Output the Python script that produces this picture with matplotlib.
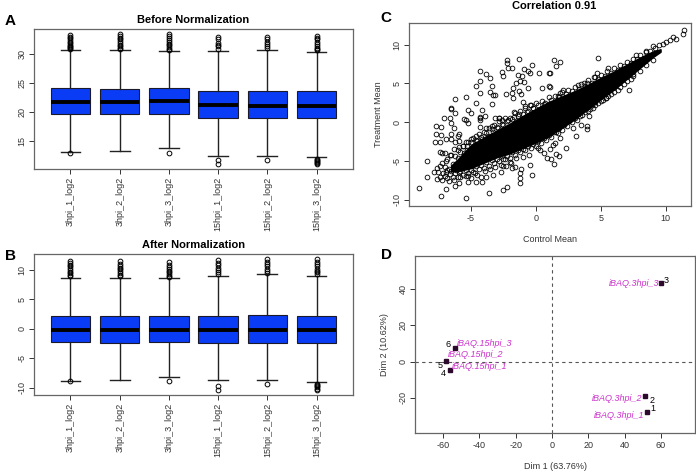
import matplotlib
matplotlib.use("Agg")
import matplotlib.pyplot as plt

plt.rcParams['font.family'] = ['Liberation Sans', 'DejaVu Sans']
plt.rcParams['axes.unicode_minus'] = False

W, H = 696, 472

samples = ["3hpi_1_log2", "3hpi_2_log2", "3hpi_3_log2",
           "15hpi_1_log2", "15hpi_2_log2", "15hpi_3_log2"]

# A: before normalization (box statistics)
before_q1 = [19.7, 19.6, 19.7, 19.0, 18.9, 19.0]
before_med = [21.75, 21.75, 21.9, 21.15, 21.0, 21.05]
before_q3 = [24.1, 24.0, 24.1, 23.6, 23.6, 23.6]
before_lo = [13.15, 13.3, 13.75, 12.5, 12.5, 12.2]
before_hi = [30.6, 30.7, 30.45, 30.45, 30.7, 30.35]
before_out = [
    [13.0, 30.8, 31.0, 31.2, 31.4, 31.6, 31.9, 32.1, 32.4, 32.7, 33.0, 33.3],
    [30.9, 31.1, 31.4, 31.6, 31.9, 32.2, 32.5, 32.8, 33.1, 33.4],
    [13.0, 30.7, 30.9, 31.2, 31.5, 31.8, 32.1, 32.4, 32.8, 33.1, 33.4],
    [11.8, 11.0, 30.9, 31.3, 31.6, 31.9, 32.5, 33.0],
    [11.8, 31.0, 31.3, 31.7, 32.1, 32.5, 32.9],
    [12.0, 11.8, 11.6, 11.4, 11.2, 11.0, 30.6, 30.8, 31.0, 31.3, 31.7,
     32.1, 32.5, 32.8, 33.1],
]

# B: after normalization
after_q1 = [-2.25, -2.35, -2.25, -2.4, -2.4, -2.4]
after_med = [-0.15, -0.15, -0.1, -0.2, -0.2, -0.2]
after_q3 = [2.2, 2.2, 2.2, 2.25, 2.3, 2.25]
after_lo = [-8.75, -8.6, -8.2, -8.7, -8.7, -9.05]
after_hi = [8.65, 8.7, 8.55, 9.05, 9.25, 9.05]
after_out = [
    [-8.9, 8.9, 9.1, 9.4, 9.7, 10.0, 10.3, 10.6, 10.9, 11.2, 11.5],
    [8.9, 9.2, 9.5, 9.8, 10.1, 10.4, 10.7, 11.0, 11.5],
    [-8.9, 8.8, 9.0, 9.3, 9.6, 9.9, 10.2, 10.5, 10.9, 11.4],
    [-9.6, -10.3, 9.3, 9.6, 10.0, 10.4, 10.8, 11.2, 11.6],
    [-9.4, 9.5, 9.8, 10.2, 10.6, 11.0, 11.4, 11.8],
    [-9.3, -9.5, -9.7, -9.9, -10.1, -10.3, 9.3, 9.6, 9.9, 10.2, 10.6,
     11.0, 11.4, 11.8],
]

# C: dense core of the control/treatment cloud (solid black region)
core_x = [-6.5, -6.0, -5.0, -4.0, -3.0, -2.0, -1.0, 0.0, 1.0, 2.0, 3.0,
          4.0, 5.0, 6.0, 7.0, 8.0, 9.0, 9.6]
core_lo = [-6.3, -6.3, -5.9, -5.2, -4.5, -4.0, -3.3, -2.6, -1.8, -0.7, 0.4,
           1.7, 3.0, 4.2, 5.6, 7.0, 8.4, 9.1]
core_hi = [-5.6, -4.8, -3.0, -2.0, -1.1, -0.2, 0.8, 1.7, 2.6, 3.3, 4.0,
           4.8, 5.7, 6.5, 7.4, 8.3, 9.1, 9.4]

# C: individual proteins visible outside the core
ctrl_mean = [
    -2.18, -2.2, -1.26, -4.26, -3.85, -3.52, -2.62, -2.5, -2.1, -1.85, -1.38,
    -1.08, -0.92, -0.56, -0.44, -0.31, 0.25, 1.02, -4.26, -4.57, -3.4, -4.26,
    -3.52, -3.3, -3.1, -2.28, -1.85, -1.72, -1.54, -1.23, -0.9, -1.26, -1.1,
    -1.77, -0.59, 0.51, 1.02, -6.2, -5.4, -4.57, -3.4, -4.1, -5.2, -5.0, -6.5,
    -6.5, -6.2, -7.03, -6.6, -5.5, -4.3, -3.1, -2.8, -1.7, -0.98, -0.82, -0.44,
    11.43, 11.3, 10.54, 10.8, 10.3, 10.05, 9.8, 9.5, 9.2, 9.0, 8.8, 8.5, 7.7,
    4.82, 1.43, 1.85, 1.6, 1.08, 1.08, 5.58, 4.68, 4.55, 7.38, 7.45, 7.17, 5.4,
    4.1, 3.28, 3.7, 3.95, 2.1, 1.85, 1.75, 4.32, 4.6, 4.0, 3.5, 3.93, 3.97,
    2.9, 3.1, 2.3, 1.74, 1.85, 1.48, 1.1, 1.6, 1.8, 1.18, 1.43,
    -8.98, -7.3, -5.4, -3.6, -2.5, -2.2, -1.2, -1.2, -0.3, -8.36, -8.34, -7.8,
    -7.6, -7.4, -6.9, -6.2, -5.9, -5.2, -4.6, -4.1, -3.8, -3.3, -2.7, -2.5,
    -1.85, -1.1, -1.2, -0.44, -5.4, -5.2, -7.67, -7.3, -7.67, -7.3, -7.75,
    -7.4, -6.9, -6.5, -6.2, -5.9, -5.6, -6.5, -6.3, -6.5, -5.9, -6.0, -5.4,
    -5.0, -4.6, -4.5, -7.2, -7.0, -7.4, -7.2, -6.8, -7.0, -7.5, -6.8, -5.9,
    -5.6, -4.3, -4.3, -3.9, -2.8, -2.6, -4.3, -3.8, -3.4, -2.5, -2.0, -1.6,
    0.2, 0.6, 0.9,
    -6.5, -6.0, -5.6, -5.2, -4.8, -4.4, -4.0, -3.6, -3.2, -2.8, -2.4, -2.0,
    -1.6, -1.2, -0.8, -0.4, 0.0, 0.5, 1.0, 1.5, 2.0, 2.5, 3.0, 3.5, 4.0, 4.5,
    5.0, 5.5, 6.0, 6.5, 7.0, 7.5, 8.0, 8.5,
    -7.2, -6.8, -6.4, -6.0, -5.6, -5.2, -4.8, -4.4, -4.0, -3.6, -3.2, -2.8,
    -2.4, -2.0, -1.6, -1.2, -0.8, -0.4, 0.0, 0.4, 0.8, 1.2, 1.6, 2.0, 2.4,
    2.8, 3.2, 3.6, 4.0, 4.4, 4.8, 5.2, 5.6, 6.0, 6.5, 7.0, 7.5, 8.0, 8.5, 9.0,
    -7.4, -7.1, -6.9, -6.7, -6.6, -6.4, -6.3, -6.1, -6.0, -5.9, -5.7, -5.5,
    -5.4, -5.3, -5.1, -5.0, -4.9, -4.7, -4.6, -4.4, -4.2, -4.1, -3.9, -3.7,
    -3.5, -3.3, -3.1, -2.9, -2.7, -2.5, -2.3, -2.1, -1.9, -1.7, -1.5, -1.3,
    -1.0, -0.7, -0.5, -0.2, 0.3, 0.6, 1.3, 1.7,
    -6.2, -5.8, -5.3, -5.0, -4.6, -4.2, -3.8, -3.4, -3.0, -2.6, -2.2, -1.8,
    -1.4, -1.0, -0.6, -0.2, 0.2, 0.7, 1.2, 1.8, 2.3, 2.8, 3.3, 3.8, 4.3, 4.8,
    5.3, 5.8, 6.3, 6.8, 7.3, 7.8,
    -6.6, -6.2, -5.8, -5.4, -5.0, -4.6, -4.2, -3.8, -3.4, -3.0, -2.6, -2.2,
    -1.8, -1.4, -1.0, -0.6, -0.2, 0.2, 0.6, 1.0, 1.4, 1.8, 2.2, 2.6, 3.0, 3.4,
    3.8, 4.2, 4.6, 5.0, 5.4, 5.8, 6.3, 6.8, 7.3,
    -7.0, -6.7, -6.5, -6.3, -6.0, -5.8, -5.5, -5.2, -4.9, -4.5, -7.6, -6.9,
]
treat_mean = [
    8.04, 7.7, 8.17, 6.66, 6.23, 5.68, 6.53, 6.0, 6.97, 7.05, 6.1,
    6.0, 6.84, 6.66, 6.4, 7.39, 6.4, 6.32, 5.37, 4.68, 4.7, 3.82,
    3.9, 3.5, 3.5, 3.7, 3.8, 4.4, 5.03, 5.3, 5.2, 4.05, 3.6,
    3.14, 4.38, 4.47, 4.7, 3.05, 3.2, 2.53, 2.3, 1.59, 1.6, 1.2, 1.8,
    1.65, 1.2, 0.6, 0.5, 0.45, 0.6, 0.6, 0.6, 1.3, 2.66, 2.1, 2.2,
    11.9, 11.4, 10.96, 10.75, 10.6, 10.3, 10.05, 9.9, 9.6, 9.8, 9.2, 9.2, 8.7,
    8.26, 8.04, 7.8, 7.3, 6.32, 4.6, 7.05, 6.4, 5.8, 6.53, 6.2, 4.17, 3.1,
    0.85, 4.8, 5.0, 5.1, 4.1, 3.74, 3.4, 2.2, 2.6, 2.0, -0.35, -0.5, -0.9,
    -0.78, -1.73, -3.36, -1.42, -2.07, -2.7, -3.45, -4.1, -4.4, -4.74, -5.38,
    -8.5, -9.5, -9.8, -9.1, -8.7, -8.3, -7.8, -7.2, -6.8, -7.0, -5.0, -6.4,
    -7.3, -7.1, -8.6, -8.2, -7.8, -7.7, -7.7, -7.7, -7.0, -6.8, -6.4, -5.7,
    -5.9, -6.0, -6.6, -5.5, 0.3, -0.1, -0.48, -0.56, -1.5, -1.6, -2.6,
    -2.5, -2.2, -2.2, -2.5, -2.4, -3.0, -0.1, -0.8, -1.5, -1.5, -1.8, -2.6,
    -2.2, -1.8, -2.4, -4.0, -4.0, -3.8, -5.3, -4.8, -5.8, -6.4, -6.2, -6.4,
    -5.8, 0.7, 0.3, 0.8, 0.5, 0.3, -0.6, -0.8, -0.5, -4.7, -5.1, -5.8,
    -3.35, -4.0, -4.6,
    -4.2, -3.6, -3.0, -2.6, -2.0, -1.5, -1.2, -0.8, -0.3, 0.1, 0.5, 0.6,
    1.2, 1.5, 1.8, 2.2, 2.5, 2.8, 3.2, 3.4, 3.9, 4.2, 4.6, 4.9, 5.4, 5.8,
    6.1, 6.6, 7.0, 7.4, 7.8, 8.2, 8.7, 9.0,
    -7.5, -7.2, -7.0, -7.0, -6.8, -6.6, -6.4, -6.0, -5.9, -5.6, -5.3, -5.0,
    -4.8, -4.6, -4.2, -3.9, -3.6, -3.3, -3.1, -2.7, -2.3, -1.9, -1.3, -1.0,
    -0.5, 0.0, 0.3, 0.9, 1.4, 1.9, 2.5, 2.9, 3.4, 3.9, 4.6, 5.3, 6.0, 6.6,
    7.4, 8.0,
    -5.6, -6.6, -5.0, -6.0, -4.2, -5.4, -3.5, -6.2, -4.6, -3.2, -5.6, -4.0,
    -6.9, -3.0, -5.2, -7.2, -3.6, -6.6, -2.8, -4.6, -7.0, -2.2, -6.3, -1.8,
    -6.0, -1.2, -5.8, -0.8, -5.5, -0.3, -5.6, 0.3, -5.2, 0.7, -4.6, 1.0,
    -4.5, 1.3, -4.2, 1.9, -3.6, 2.3, -2.9, 2.9,
    -4.4, -3.9, -3.6, -2.6, -2.3, -1.9, -1.4, -0.9, -0.6, -0.2, 0.1, 0.4,
    0.8, 1.1, 1.5, 1.9, 2.2, 2.5, 2.9, 3.2, 3.6, 4.0, 4.3, 4.7, 5.1, 5.6,
    6.0, 6.4, 6.8, 7.3, 7.7, 8.1,
    -6.7, -6.6, -6.3, -6.2, -6.1, -5.7, -5.5, -5.1, -4.9, -4.7, -4.4, -4.3,
    -3.9, -3.6, -3.4, -3.0, -2.8, -2.4, -2.0, -1.7, -1.3, -0.8, -0.4, 0.1,
    0.5, 0.8, 1.3, 1.7, 2.2, 2.7, 3.1, 3.6, 4.1, 4.9, 5.6,
    -6.9, -7.6, -6.3, -7.4, -5.8, -7.1, -5.2, -6.9, -5.7, -6.8, -5.9, -6.4,
]

# D: PCA of individuals
pca_names = ["iBAQ.3hpi_1", "iBAQ.3hpi_2", "iBAQ.3hpi_3",
             "iBAQ.15hpi_1", "iBAQ.15hpi_2", "iBAQ.15hpi_3"]
pca_ids = ["1", "2", "3", "4", "5", "6"]
dim1 = [52.3, 51.4, 60.0, -56.3, -58.2, -53.6]
dim2 = [-27.9, -19.1, 43.0, -4.7, 0.5, 7.3]

# label placement (pixel offsets from each point)
name_off = [(-3, -3), (-3, -2.5), (-2, 0), (2, 3.5), (1.5, 6.5), (2, 4.5)]
name_ha = ["right", "right", "right", "left", "left", "left"]
num_off = [(3, 3.5), (4, -4), (3, 3), (-4, -3.5), (-4, -4.5), (-3.5, 3.5)]
num_ha = ["left", "left", "left", "right", "right", "right"]

FRAME = "#666666"
TICKC = "#333333"
FS = 6.5


def px_axes(fig, left, top, right, bottom):
    return fig.add_axes([left / W, 1 - bottom / H, (right - left) / W,
                         (bottom - top) / H])


def style(ax):
    for s in ax.spines.values():
        s.set_color(FRAME)
        s.set_linewidth(0.9)
    ax.tick_params(colors=TICKC, labelsize=FS, length=3.5, width=0.7,
                   pad=2)
    ax.tick_params(axis="y", labelrotation=90)
    for lab in ax.get_yticklabels():
        lab.set_verticalalignment("center")


def boxes(ax, q1, med, q3, lo, hi, out, ylim, yticks):
    stats = []
    for i in range(len(samples)):
        stats.append(dict(q1=q1[i], med=med[i], q3=q3[i], whislo=lo[i],
                          whishi=hi[i], fliers=out[i], label=samples[i]))
    ax.bxp(stats, widths=0.8, capwidths=0.4, patch_artist=True,
           boxprops=dict(facecolor="#0a3cf5", edgecolor="#1a1a2a",
                         linewidth=0.8),
           medianprops=dict(color="black", linewidth=2.8),
           whiskerprops=dict(color="#222222", linewidth=1.0),
           capprops=dict(color="#222222", linewidth=1.0),
           flierprops=dict(marker="o", markerfacecolor="none",
                           markeredgecolor="black", markersize=3.4,
                           markeredgewidth=0.7))
    ax.set_xlim(0.26, 6.74)
    ax.set_ylim(*ylim)
    ax.set_yticks(yticks)
    ax.set_xticks(range(1, 7))
    ax.set_xticklabels(samples, rotation=90)
    style(ax)


fig = plt.figure(figsize=(W / 100, H / 100), dpi=100)

axA = px_axes(fig, 34, 29, 353, 169)
boxes(axA, before_q1, before_med, before_q3, before_lo, before_hi,
      before_out, (10.2, 34.3), [15, 20, 25, 30])
axA.set_title("Before Normalization", fontsize=8, fontweight="bold", pad=4)

axB = px_axes(fig, 34, 254, 353, 395)
boxes(axB, after_q1, after_med, after_q3, after_lo, after_hi,
      after_out, (-11.2, 12.7), [-10, -5, 0, 5, 10])
axB.set_title("After Normalization", fontsize=8, fontweight="bold", pad=4)

axC = px_axes(fig, 409, 23, 691, 206)
axC.fill_between(core_x, core_lo, core_hi, color="black", lw=1.2)
axC.plot(ctrl_mean, treat_mean, "o", mfc="none", mec="black", ms=3.4,
         mew=0.6)
axC.set_xlim(-9.75, 11.95)
axC.set_ylim(-10.8, 12.8)
axC.set_xticks([-5, 0, 5, 10])
axC.set_yticks([-10, -5, 0, 5, 10])
axC.set_xlabel("Control Mean", fontsize=FS, color=TICKC, labelpad=9)
axC.set_ylabel("Treatment Mean", fontsize=FS, color=TICKC, labelpad=7)
style(axC)

axD = px_axes(fig, 415, 256, 695, 433)
axD.axvline(0, color="#555555", lw=0.8, ls=(0, (3, 3)))
axD.axhline(0, color="#555555", lw=0.8, ls=(0, (3, 3)))
axD.plot(dim1, dim2, "s", color="#2b0a2b", ms=2.8)
for i in range(len(dim1)):
    axD.annotate(pca_names[i], (dim1[i], dim2[i]), xytext=name_off[i],
                 textcoords="offset pixels", ha=name_ha[i], va="center",
                 fontsize=FS, style="italic", color="#cc33cc")
    axD.annotate(pca_ids[i], (dim1[i], dim2[i]), xytext=num_off[i],
                 textcoords="offset pixels", ha=num_ha[i], va="center",
                 fontsize=FS, color="black")
axD.set_xlim(-75.4, 78.7)
axD.set_ylim(-39.3, 58)
axD.set_xticks([-60, -40, -20, 0, 20, 40, 60])
axD.set_yticks([-20, 0, 20, 40])
axD.set_xlabel("Dim 1 (63.76%)", fontsize=FS, color=TICKC, labelpad=9)
axD.set_ylabel("Dim 2 (10.62%)", fontsize=FS, color=TICKC, labelpad=7)
style(axD)

fig.text(554 / W, 1 - 6 / H, "Correlation 0.91", ha="center", va="center",
         fontsize=8, fontweight="bold")
for lab, x, y in [("A", 5, 21), ("B", 5, 256), ("C", 380, 18),
                  ("D", 381, 255)]:
    fig.text(x / W, 1 - y / H, lab, ha="left", va="center", fontsize=11,
             fontweight="bold")

fig.savefig("out.png", dpi=100)
